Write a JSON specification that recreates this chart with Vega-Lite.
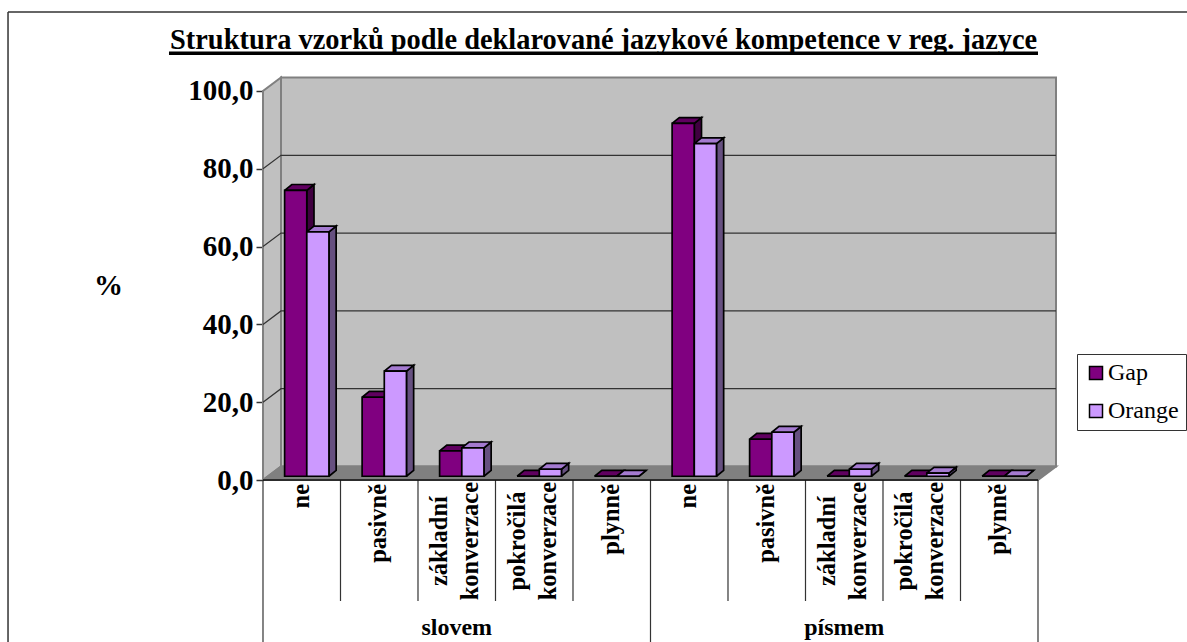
{
  "$schema": "https://vega.github.io/schema/vega-lite/v6.json",
  "width": 1187,
  "height": 642,
  "padding": 0,
  "autosize": "none",
  "background": "white",
  "title": {
    "text": "Struktura vzorků podle deklarované jazykové kompetence v reg. jazyce",
    "font": "Liberation Serif",
    "fontSize": 28.4,
    "fontWeight": "bold",
    "color": "black",
    "anchor": "start",
    "frame": "group",
    "baseline": "alphabetic",
    "offset": 0,
    "dx": 170,
    "dy": 77
  },
  "datasets": {
    "bars": [
      {"method": "slovem", "level": "ne", "pos": 0, "series": "Gap", "value": 73.5},
      {"method": "slovem", "level": "ne", "pos": 0, "series": "Orange", "value": 62.8},
      {"method": "slovem", "level": "pasivně", "pos": 1, "series": "Gap", "value": 20.3},
      {"method": "slovem", "level": "pasivně", "pos": 1, "series": "Orange", "value": 27.0},
      {"method": "slovem", "level": "základní konverzace", "pos": 2, "series": "Gap", "value": 6.5},
      {"method": "slovem", "level": "základní konverzace", "pos": 2, "series": "Orange", "value": 7.3},
      {"method": "slovem", "level": "pokročilá konverzace", "pos": 3, "series": "Gap", "value": 0},
      {"method": "slovem", "level": "pokročilá konverzace", "pos": 3, "series": "Orange", "value": 1.8},
      {"method": "slovem", "level": "plynně", "pos": 4, "series": "Gap", "value": 0},
      {"method": "slovem", "level": "plynně", "pos": 4, "series": "Orange", "value": 0},
      {"method": "písmem", "level": "ne", "pos": 5, "series": "Gap", "value": 90.7},
      {"method": "písmem", "level": "ne", "pos": 5, "series": "Orange", "value": 85.5},
      {"method": "písmem", "level": "pasivně", "pos": 6, "series": "Gap", "value": 9.5},
      {"method": "písmem", "level": "pasivně", "pos": 6, "series": "Orange", "value": 11.3},
      {"method": "písmem", "level": "základní konverzace", "pos": 7, "series": "Gap", "value": 0},
      {"method": "písmem", "level": "základní konverzace", "pos": 7, "series": "Orange", "value": 1.8},
      {"method": "písmem", "level": "pokročilá konverzace", "pos": 8, "series": "Gap", "value": 0},
      {"method": "písmem", "level": "pokročilá konverzace", "pos": 8, "series": "Orange", "value": 0.8},
      {"method": "písmem", "level": "plynně", "pos": 9, "series": "Gap", "value": 0},
      {"method": "písmem", "level": "plynně", "pos": 9, "series": "Orange", "value": 0}
    ]
  },
  "layer": [
    {
      "data": {"values": [{"edge": "top"}]},
      "transform": [
        {"calculate": "-3.29", "as": "from"},
        {"calculate": "11.9226", "as": "to"},
        {"calculate": "120.3", "as": "level"}
      ],
      "mark": {"type": "rule", "color": "#333333", "strokeWidth": 1.5},
      "encoding": {
        "x": {"field": "from", "type": "quantitative", "scale": {"domain": [-3.3935, 11.9226], "nice": false, "zero": false}, "axis": null},
        "x2": {"field": "to"},
        "y": {"field": "level", "type": "quantitative", "scale": {"domain": [-41.645, 123.393], "nice": false, "zero": false},
          "axis": {
            "values": [0, 20, 40, 60, 80, 100],
            "labelExpr": "replace(format(datum.value, '.1f'), '.', ',')",
            "offset": -263,
            "domain": false,
            "grid": false,
            "ticks": true,
            "tickSize": 7,
            "tickColor": "#333333",
            "tickWidth": 1.5,
            "labelFont": "Liberation Serif",
            "labelFontSize": 29,
            "labelFontWeight": "bold",
            "labelColor": "black",
            "labelPadding": 3,
            "title": "%",
            "titleFont": "Liberation Serif",
            "titleFontSize": 29,
            "titleFontWeight": "bold",
            "titleColor": "black",
            "titleAngle": 0,
            "titleX": -155,
            "titleY": 294,
            "titleBaseline": "alphabetic",
            "titleAlign": "center"
          }
        }
      }
    },
    {
      "data": {"values": [{"edge": "left"}]},
      "transform": [
        {"calculate": "-3.29", "as": "at"},
        {"calculate": "120.3", "as": "from"},
        {"calculate": "-41.645", "as": "to"}
      ],
      "mark": {"type": "rule", "color": "#333333", "strokeWidth": 1.5},
      "encoding": {
        "x": {"field": "at", "type": "quantitative", "scale": {"domain": [-3.3935, 11.9226], "nice": false, "zero": false}, "axis": null},
        "y": {"field": "from", "type": "quantitative", "scale": {"domain": [-41.645, 123.393], "nice": false, "zero": false}},
        "y2": {"field": "to"}
      }
    },
    {
      "data": {"values": [{"plane": "back"}]},
      "transform": [
        {"calculate": "0.2323", "as": "x0"},
        {"calculate": "10.2323", "as": "x1"},
        {"calculate": "3.47", "as": "y0"},
        {"calculate": "103.47", "as": "y1"}
      ],
      "mark": {"type": "rect", "fill": "#C0C0C0", "stroke": "#808080", "strokeWidth": 2},
      "encoding": {
        "x": {"field": "x0", "type": "quantitative", "scale": {"domain": [-3.3935, 11.9226], "nice": false, "zero": false}, "axis": null},
        "x2": {"field": "x1"},
        "y": {"field": "y0", "type": "quantitative", "scale": {"domain": [-41.645, 123.393], "nice": false, "zero": false}},
        "y2": {"field": "y1"}
      }
    },
    {
      "data": {"values": [{"plane": "wall"}, {"plane": "floor"}]},
      "transform": [
        {"calculate": "[0, 1, 2, 3, 4]", "as": "corner"},
        {"flatten": ["corner"]},
        {"calculate": "datum.plane === 'wall' ? [0, 0, 0.2323, 0.2323, 0][datum.corner] : [0, 10, 10.2323, 0.2323, 0][datum.corner]", "as": "px"},
        {"calculate": "datum.plane === 'wall' ? [0, 100, 103.47, 3.47, 0][datum.corner] : [0, 0, 3.47, 3.47, 0][datum.corner]", "as": "py"}
      ],
      "mark": {"type": "line", "stroke": "#808080", "strokeWidth": 2, "interpolate": "linear"},
      "encoding": {
        "x": {"field": "px", "type": "quantitative", "scale": {"domain": [-3.3935, 11.9226], "nice": false, "zero": false}, "axis": null},
        "y": {"field": "py", "type": "quantitative", "scale": {"domain": [-41.645, 123.393], "nice": false, "zero": false}},
        "order": {"field": "corner", "type": "quantitative"},
        "fill": {"field": "plane", "type": "nominal", "scale": {"domain": ["wall", "floor"], "range": ["#C0C0C0", "#808080"]}, "legend": null}
      }
    },
    {
      "data": {"values": [{"tick": 20}, {"tick": 40}, {"tick": 60}, {"tick": 80}]},
      "transform": [
        {"calculate": "[0, 1, 2]", "as": "corner"},
        {"flatten": ["corner"]},
        {"calculate": "[0, 0.2323, 10.2323][datum.corner]", "as": "px"},
        {"calculate": "datum.tick + [0, 3.47, 3.47][datum.corner]", "as": "py"}
      ],
      "mark": {"type": "line", "stroke": "#333333", "strokeWidth": 1.2, "interpolate": "linear"},
      "encoding": {
        "x": {"field": "px", "type": "quantitative", "scale": {"domain": [-3.3935, 11.9226], "nice": false, "zero": false}, "axis": null},
        "y": {"field": "py", "type": "quantitative", "scale": {"domain": [-41.645, 123.393], "nice": false, "zero": false}},
        "detail": {"field": "tick", "type": "nominal"},
        "order": {"field": "corner", "type": "quantitative"}
      }
    },
    {
      "data": {"values": [{"pos": 0, "kind": "outer"}, {"pos": 5, "kind": "outer"}, {"pos": 10, "kind": "outer"}, {"pos": 1, "kind": "inner"}, {"pos": 2, "kind": "inner"}, {"pos": 3, "kind": "inner"}, {"pos": 4, "kind": "inner"}, {"pos": 6, "kind": "inner"}, {"pos": 7, "kind": "inner"}, {"pos": 8, "kind": "inner"}, {"pos": 9, "kind": "inner"}]},
      "transform": [
        {"calculate": "datum.kind === 'outer' ? -41.645 : -31.1", "as": "end"},
        {"calculate": "0", "as": "start"}
      ],
      "mark": {"type": "rule", "color": "#333333", "strokeWidth": 1.2},
      "encoding": {
        "x": {"field": "pos", "type": "quantitative", "scale": {"domain": [-3.3935, 11.9226], "nice": false, "zero": false}, "axis": null},
        "y": {"field": "start", "type": "quantitative", "scale": {"domain": [-41.645, 123.393], "nice": false, "zero": false}},
        "y2": {"field": "end"}
      }
    },
    {
      "data": {"values": [{"edge": "baseline"}]},
      "transform": [
        {"calculate": "0", "as": "from"},
        {"calculate": "10", "as": "to"},
        {"calculate": "0", "as": "level"}
      ],
      "mark": {"type": "rule", "color": "#111111", "strokeWidth": 1.5},
      "encoding": {
        "x": {"field": "from", "type": "quantitative", "scale": {"domain": [-3.3935, 11.9226], "nice": false, "zero": false}, "axis": null},
        "x2": {"field": "to"},
        "y": {"field": "level", "type": "quantitative", "scale": {"domain": [-41.645, 123.393], "nice": false, "zero": false}}
      }
    },
    {
      "data": {"name": "bars"},
      "transform": [
        {"calculate": "datum.pos + (datum.series === 'Gap' ? 0.279 : 0.565) + 0.286", "as": "right"},
        {"calculate": "datum.value + 0.97", "as": "top"},
        {"calculate": "[0, 1, 2, 3, 4]", "as": "corner"},
        {"flatten": ["corner"]},
        {"calculate": "datum.right + [0, 0, 0.093, 0.093, 0][datum.corner]", "as": "px"},
        {"calculate": "[0.97, datum.top, datum.top + 1.5, 2.47, 0.97][datum.corner]", "as": "py"}
      ],
      "mark": {"type": "line", "stroke": "black", "strokeWidth": 1.7, "interpolate": "linear"},
      "encoding": {
        "x": {"field": "px", "type": "quantitative", "scale": {"domain": [-3.3935, 11.9226], "nice": false, "zero": false}, "axis": null},
        "y": {"field": "py", "type": "quantitative", "scale": {"domain": [-41.645, 123.393], "nice": false, "zero": false}},
        "detail": {"field": "pos", "type": "nominal"},
        "order": {"field": "corner", "type": "quantitative"},
        "fill": {"field": "series", "type": "nominal", "scale": {"domain": ["Gap", "Orange"], "range": ["#400040", "#665080"]}, "legend": null}
      }
    },
    {
      "data": {"name": "bars"},
      "transform": [
        {"calculate": "datum.pos + (datum.series === 'Gap' ? 0.279 : 0.565)", "as": "left"},
        {"calculate": "datum.value + 0.97", "as": "top"},
        {"calculate": "[0, 1, 2, 3, 4]", "as": "corner"},
        {"flatten": ["corner"]},
        {"calculate": "datum.left + [0, 0.286, 0.379, 0.093, 0][datum.corner]", "as": "px"},
        {"calculate": "datum.top + [0, 0, 1.5, 1.5, 0][datum.corner]", "as": "py"}
      ],
      "mark": {"type": "line", "stroke": "black", "strokeWidth": 1.7, "interpolate": "linear"},
      "encoding": {
        "x": {"field": "px", "type": "quantitative", "scale": {"domain": [-3.3935, 11.9226], "nice": false, "zero": false}, "axis": null},
        "y": {"field": "py", "type": "quantitative", "scale": {"domain": [-41.645, 123.393], "nice": false, "zero": false}},
        "detail": {"field": "pos", "type": "nominal"},
        "order": {"field": "corner", "type": "quantitative"},
        "fill": {"field": "series", "type": "nominal", "scale": {"domain": ["Gap", "Orange"], "range": ["#600060", "#A47AD0"]}, "legend": null}
      }
    },
    {
      "data": {"name": "bars"},
      "transform": [
        {"calculate": "datum.pos + (datum.series === 'Gap' ? 0.279 : 0.565)", "as": "left"},
        {"calculate": "datum.left + 0.286", "as": "right"},
        {"calculate": "datum.value + 0.97", "as": "top"},
        {"calculate": "0.97", "as": "floor"}
      ],
      "mark": {"type": "rect", "stroke": "black", "strokeWidth": 1.7},
      "encoding": {
        "x": {"field": "left", "type": "quantitative", "scale": {"domain": [-3.3935, 11.9226], "nice": false, "zero": false}, "axis": null},
        "x2": {"field": "right"},
        "y": {"field": "top", "type": "quantitative", "scale": {"domain": [-41.645, 123.393], "nice": false, "zero": false}},
        "y2": {"field": "floor"},
        "fill": {
          "field": "series", "type": "nominal", "title": null,
          "scale": {"domain": ["Gap", "Orange"], "range": ["#800080", "#CC99FF"]},
          "legend": {
            "orient": "none", "legendX": 1077, "legendY": 354,
            "symbolType": "square", "symbolSize": 169, "symbolStrokeColor": "black", "symbolStrokeWidth": 1.5, "symbolOpacity": 1,
            "labelFont": "Liberation Serif", "labelFontSize": 24, "labelColor": "black", "labelLimit": 120,
            "rowPadding": 14, "padding": 7, "strokeColor": "#333333", "fillColor": "white", "labelOffset": 0
          }
        }
      }
    },
    {
      "data": {"name": "bars"},
      "transform": [
        {"filter": "datum.series === 'Gap' && indexof(datum.level, ' ') < 0"},
        {"calculate": "datum.pos + 0.5", "as": "mid"},
        {"calculate": "-1", "as": "anchor"}
      ],
      "mark": {"type": "text", "angle": 270, "align": "right", "baseline": "middle", "font": "Liberation Serif", "fontSize": 24.5, "fontWeight": "bold", "color": "black"},
      "encoding": {
        "x": {"field": "mid", "type": "quantitative", "scale": {"domain": [-3.3935, 11.9226], "nice": false, "zero": false}, "axis": null},
        "y": {"field": "anchor", "type": "quantitative", "scale": {"domain": [-41.645, 123.393], "nice": false, "zero": false}},
        "text": {"field": "level", "type": "nominal"}
      }
    },
    {
      "data": {"name": "bars"},
      "transform": [
        {"filter": "datum.series === 'Gap' && indexof(datum.level, ' ') >= 0"},
        {"calculate": "split(datum.level, ' ')", "as": "lines"},
        {"calculate": "datum.pos + 0.29", "as": "mid"},
        {"calculate": "-15.7", "as": "anchor"}
      ],
      "mark": {"type": "text", "angle": 270, "align": "center", "baseline": "middle", "lineHeight": 31, "font": "Liberation Serif", "fontSize": 24.5, "fontWeight": "bold", "color": "black"},
      "encoding": {
        "x": {"field": "mid", "type": "quantitative", "scale": {"domain": [-3.3935, 11.9226], "nice": false, "zero": false}, "axis": null},
        "y": {"field": "anchor", "type": "quantitative", "scale": {"domain": [-41.645, 123.393], "nice": false, "zero": false}},
        "text": {"field": "lines", "type": "nominal"}
      }
    },
    {
      "data": {"name": "bars"},
      "transform": [
        {"aggregate": [{"op": "mean", "field": "pos", "as": "midpos"}], "groupby": ["method"]},
        {"calculate": "datum.midpos + 0.5", "as": "mid"},
        {"calculate": "-38", "as": "anchor"}
      ],
      "mark": {"type": "text", "align": "center", "baseline": "middle", "font": "Liberation Serif", "fontSize": 24, "fontWeight": "bold", "color": "black"},
      "encoding": {
        "x": {"field": "mid", "type": "quantitative", "scale": {"domain": [-3.3935, 11.9226], "nice": false, "zero": false}, "axis": null},
        "y": {"field": "anchor", "type": "quantitative", "scale": {"domain": [-41.645, 123.393], "nice": false, "zero": false}},
        "text": {"field": "method", "type": "nominal"}
      }
    },
    {
      "data": {"values": [{"edge": "title underline"}]},
      "transform": [
        {"calculate": "-1.213", "as": "from"},
        {"calculate": "10", "as": "to"},
        {"calculate": "109.7", "as": "level"}
      ],
      "mark": {"type": "rule", "color": "black", "strokeWidth": 3.5},
      "encoding": {
        "x": {"field": "from", "type": "quantitative", "scale": {"domain": [-3.3935, 11.9226], "nice": false, "zero": false}, "axis": null},
        "x2": {"field": "to"},
        "y": {"field": "level", "type": "quantitative", "scale": {"domain": [-41.645, 123.393], "nice": false, "zero": false}}
      }
    }
  ],
  "resolve": {"scale": {"fill": "independent"}},
  "config": {"view": {"stroke": null}, "axis": {"grid": false}}
}
